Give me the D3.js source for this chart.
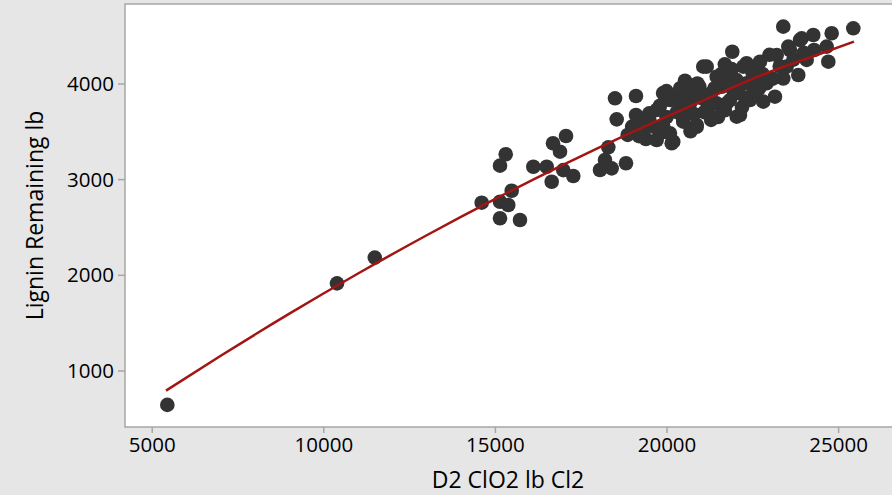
<!DOCTYPE html>
<html>
<head>
<meta charset="utf-8">
<script src="https://cdn.jsdelivr.net/npm/d3@7"></script>
<style>
  html, body { margin: 0; padding: 0; background: #e6e6e6; }
  svg { display: block; }
  text { font-family: "Open Sans", "Noto Sans", sans-serif; fill: #000; }
</style>
</head>
<body>
<div id="zone"></div>
<script>
(function() {
  "use strict";

  // scatter points: D2 ClO2 lb Cl2 (x) / Lignin Remaining lb (y)
  var clo2 = [5455, 10400, 11500, 14615, 15149, 15731, 15149, 15315, 15490, 15149,
    15390, 16120, 16509, 16693, 17072, 16897, 16655, 16993, 17284, 18304,
    18208, 18062, 18403, 18820, 18869, 18549, 18500, 19111, 19111, 20539,
    20956, 19277, 19714, 20198, 19499, 19810, 20297, 20489, 20880, 21171,
    21462, 21946, 22141, 21754, 22334, 22529, 23403, 25443, 21917, 23939,
    24277, 24813, 24667, 24715, 23840, 24085, 23549, 23211, 22724, 23403,
    23161, 22820, 22432, 22045, 21850, 21608, 21850, 21462, 21218, 20880,
    20489, 20102, 19714, 19810, 20151, 20247, 20685, 22626, 22334, 22918,
    21072, 22045, 22237, 23890, 23598, 23500, 19300, 19600, 20000, 20400,
    20700, 21000, 21300, 21600, 22200, 20600, 21100, 21500, 19900, 20900,
    21700, 22800, 23000, 24300, 19000, 19400, 20700,
    19500, 19900, 20300, 20100, 20800, 21200, 21400, 21900, 22100, 22500,
    22700, 23100, 23300, 23700, 24000, 20400, 20900, 21300, 21700, 22300,
    19200, 20000, 20600, 21800, 22600];
  var lignin = [640, 1910, 2180, 2754, 2591, 2573, 3141, 3260, 2879, 2764,
    2730, 3130, 3130, 3375, 3451, 3287, 2973, 3094, 3033, 3333,
    3200, 3096, 3113, 3166, 3462, 3625, 3845, 3869, 3671, 4029,
    3966, 3479, 3409, 3392, 3688, 3768, 3862, 3601, 3566, 4176,
    4071, 3932, 3671, 3793, 4212, 3897, 4594, 4577, 4332, 4472,
    4507, 4525, 4385, 4228, 4089, 4246, 4385, 4298, 4228, 4052,
    3862, 3810, 3827, 3653, 3827, 3966, 4071, 3793, 3688, 3548,
    3618, 3827, 3723, 3479, 3375, 3862, 3966, 4071, 4002, 4002,
    4176, 4036, 4176, 4455, 4350, 4176, 3600, 3550, 3650, 3750,
    3800, 3850, 3900, 4100, 3750, 3700, 3700, 3650, 3900, 4000,
    4200, 4100, 4300, 4350, 3550, 3420, 3500,
    3620, 3560, 3700, 3480, 3680, 3780, 3950, 4150, 3900, 4120,
    3950, 4050, 4180, 4250, 4320, 3950, 3880, 3620, 3720, 3850,
    3450, 3920, 3850, 3980, 3920];

  // fitted curve
  var fitX = [5417, 7000, 9000, 11000, 13000, 15000, 17000, 19000, 21000, 23000, 24400, 25463];
  var fitY = [789, 1151, 1591, 2011, 2411, 2791, 3151, 3491, 3811, 4120, 4300, 4437];

  var xTicks = [5000, 10000, 15000, 20000, 25000];
  var yTicks = [1000, 2000, 3000, 4000];

  var width = 892;
  var height = 495;
  var plot = { left: 125, top: 4, right: 893, bottom: 427 };

  var svg = d3.select("#zone")
    .append("svg")
    .attr("width", width)
    .attr("height", height);

  var x = d3.scaleLinear().domain([4222, 26600]).range([plot.left, plot.right]);
  var y = d3.scaleLinear().domain([409, 4831]).range([plot.bottom, plot.top]);

  // cadre du graphique
  svg.append("rect")
    .attr("x", plot.left)
    .attr("y", plot.top)
    .attr("width", plot.right - plot.left)
    .attr("height", plot.bottom - plot.top)
    .attr("fill", "#ffffff")
    .attr("stroke", "#a6a6a6")
    .attr("stroke-width", 1.5);

  // axes
  var xAxis = svg.append("g")
    .attr("transform", "translate(0," + plot.bottom + ")")
    .call(d3.axisBottom(x).tickValues(xTicks).tickFormat(d3.format("d")).tickSize(6).tickPadding(4));
  var yAxis = svg.append("g")
    .attr("transform", "translate(" + plot.left + ",0)")
    .call(d3.axisLeft(y).tickValues(yTicks).tickFormat(d3.format("d")).tickSize(7).tickPadding(4));

  [xAxis, yAxis].forEach(function(g) {
    g.select(".domain").remove();
    g.selectAll(".tick line").attr("stroke", "#a6a6a6").attr("stroke-width", 1.5);
    g.selectAll(".tick text")
      .attr("font-size", 20.5)
      .attr("fill", "#000");
  });
  yAxis.selectAll(".tick text").attr("dy", "0.35em");

  svg.append("clipPath").attr("id", "clipPlot")
    .append("rect")
    .attr("x", plot.left)
    .attr("y", plot.top)
    .attr("width", plot.right - plot.left)
    .attr("height", plot.bottom - plot.top);

  var marks = svg.append("g").attr("clip-path", "url(#clipPlot)");

  // points
  marks.selectAll("circle")
    .data(d3.range(clo2.length))
    .enter()
    .append("circle")
    .attr("cx", function(i) { return x(clo2[i]); })
    .attr("cy", function(i) { return y(lignin[i]); })
    .attr("r", 7.3)
    .attr("fill", "#333333");

  // courbe ajustée
  var line = d3.line()
    .x(function(i) { return x(fitX[i]); })
    .y(function(i) { return y(fitY[i]); })
    .curve(d3.curveMonotoneX);

  marks.append("path")
    .attr("d", line(d3.range(fitX.length)))
    .attr("fill", "none")
    .attr("stroke", "#a31515")
    .attr("stroke-width", 2.5);

  // titres des axes
  svg.append("text")
    .attr("x", 508)
    .attr("y", 488)
    .attr("text-anchor", "middle")
    .attr("font-size", 23)
    .text("D2 ClO2 lb Cl2");

  svg.append("text")
    .attr("transform", "translate(43," + ((plot.top + plot.bottom) / 2) + ") rotate(-90)")
    .attr("text-anchor", "middle")
    .attr("font-size", 23)
    .text("Lignin Remaining lb");

})();
</script>
</body>
</html>
